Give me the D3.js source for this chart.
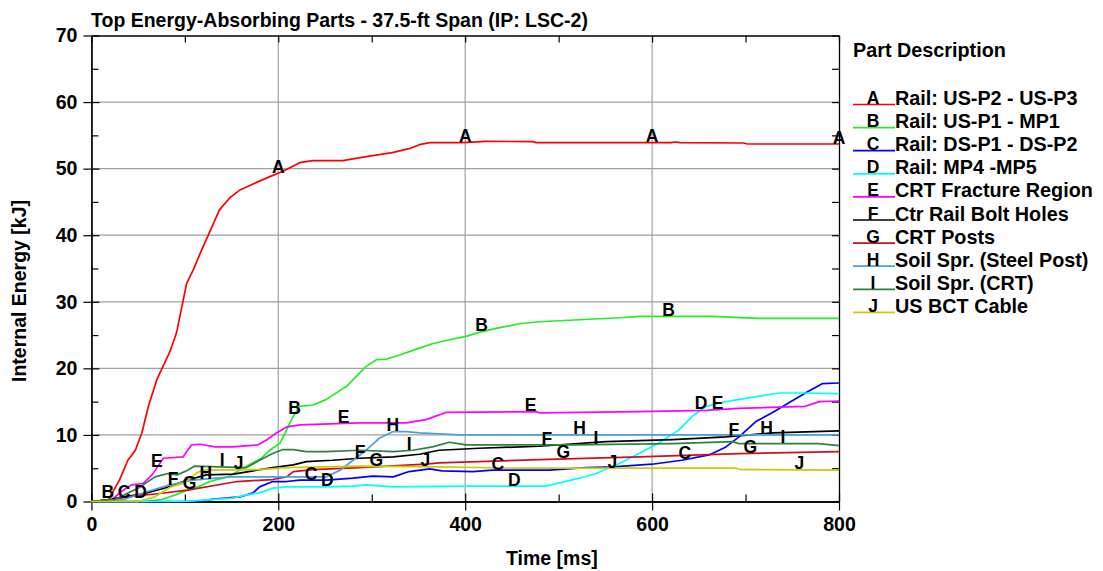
<!DOCTYPE html>
<html>
<head>
<meta charset="utf-8">
<script src="https://cdn.jsdelivr.net/npm/d3@7"></script>
<style>
    body { margin: 0; background: #fff; }
    svg text { font-family: "Liberation Sans", Arial, sans-serif; font-weight: bold; fill: #000; }
</style>
</head>
<body>
<div class="chart"></div>
<script>
// Series values: [time ms, energy kJ]
const railUsP2UsP3 = [[0, 0], [18, 0.2], [30, 3.2], [39, 6.2], [47, 7.7], [54, 10.3], [61, 14.3], [70, 18.3], [75, 19.8], [84, 22.5], [91, 25.3], [102, 32.8], [109, 34.8], [118, 37.8], [127, 40.6], [137, 43.8], [148, 45.6], [159, 46.8], [173, 47.7], [191, 48.8], [205, 49.6], [223, 50.9], [237, 51.2], [269, 51.2], [294, 51.8], [322, 52.4], [340, 53.0], [351, 53.6], [362, 53.9], [397, 53.9], [422, 54.1], [472, 54.05], [476, 53.9], [620, 53.9], [625, 54.0], [630, 53.9], [698, 53.85], [702, 53.7], [800, 53.7]];
const railUsP1Mp1 = [[0, 0], [60, 0], [75, 0.3], [90, 1.0], [102, 1.7], [114, 2.2], [127, 3.0], [146, 3.7], [175, 6.0], [182, 6.5], [191, 7.7], [202, 8.8], [209, 10.8], [216, 12.8], [223, 14.3], [237, 14.5], [251, 15.3], [273, 17.3], [294, 20.3], [305, 21.3], [316, 21.4], [330, 22.0], [350, 23.0], [365, 23.7], [383, 24.3], [401, 24.8], [412, 25.3], [433, 26.0], [458, 26.7], [479, 27.0], [522, 27.3], [565, 27.6], [586, 27.8], [664, 27.8], [714, 27.5], [800, 27.5]];
const railDsP1DsP2 = [[0, 0], [110, 0], [134, 0.4], [159, 0.7], [173, 1.3], [180, 2.2], [194, 3.0], [209, 3.0], [223, 3.2], [251, 3.2], [280, 3.5], [301, 3.8], [323, 3.7], [340, 4.5], [362, 4.9], [375, 4.6], [408, 4.5], [429, 4.7], [490, 4.7], [529, 5.1], [558, 5.2], [600, 5.6], [632, 6.2], [661, 7.0], [679, 8.2], [693, 9.7], [711, 12.0], [728, 13.3], [746, 14.8], [764, 16.3], [782, 17.7], [800, 17.8]];
const railMp4Mp5 = [[0, 0], [95, 0], [109, 0.1], [151, 0.5], [166, 1.0], [180, 1.3], [194, 2.0], [209, 2.2], [251, 2.2], [280, 2.3], [294, 2.5], [323, 2.2], [400, 2.3], [486, 2.3], [501, 2.8], [522, 3.5], [540, 4.2], [565, 5.7], [586, 7.2], [607, 8.8], [629, 10.8], [643, 12.8], [658, 14.3], [679, 15.0], [700, 15.5], [736, 16.3], [764, 16.3], [800, 16.2]];
const crtFracture = [[0, 0], [22, 0.3], [34, 1.7], [43, 2.5], [55, 2.7], [65, 4.0], [77, 6.5], [98, 6.7], [107, 8.5], [117, 8.6], [132, 8.2], [151, 8.2], [178, 8.5], [187, 9.2], [198, 10.3], [209, 11.2], [223, 11.5], [287, 11.8], [337, 11.8], [358, 12.3], [380, 13.4], [476, 13.5], [480, 13.3], [586, 13.5], [658, 13.7], [693, 14.0], [764, 14.3], [779, 15.0], [800, 15.1]];
const ctrBoltHoles = [[0, 0], [20, 0.3], [27, 0.5], [57, 1.2], [78, 2.0], [102, 3.2], [123, 4.0], [152, 4.1], [173, 4.6], [194, 5.1], [216, 5.5], [230, 6.0], [258, 6.2], [287, 6.5], [323, 6.7], [351, 7.1], [372, 7.7], [415, 8.0], [479, 8.3], [551, 9.0], [622, 9.3], [679, 9.7], [729, 10.3], [800, 10.6]];
const crtPosts = [[0, 0], [25, 0.3], [38, 0.7], [73, 1.2], [103, 1.7], [156, 3.0], [194, 3.3], [209, 3.7], [216, 4.5], [237, 4.8], [287, 5.1], [358, 5.6], [372, 5.8], [479, 6.3], [586, 6.7], [693, 7.2], [800, 7.5]];
const soilSteelPost = [[0, 0], [35, 0.3], [60, 1.5], [84, 2.5], [109, 3.2], [149, 3.7], [194, 3.7], [251, 3.7], [266, 4.7], [280, 6.2], [294, 7.7], [308, 9.5], [323, 10.5], [337, 10.5], [351, 10.3], [394, 10.0], [800, 10.0]];
const soilCrt = [[0, 0], [25, 0.3], [38, 1.2], [50, 2.0], [68, 3.7], [82, 4.2], [92, 4.0], [103, 4.7], [110, 5.3], [137, 5.2], [166, 5.1], [180, 6.2], [194, 7.2], [205, 7.8], [216, 7.8], [230, 7.5], [251, 7.5], [287, 7.7], [323, 7.5], [344, 7.7], [365, 8.2], [383, 8.9], [401, 8.5], [515, 8.5], [622, 8.7], [686, 9.0], [693, 8.7], [778, 8.7], [800, 8.4]];
const usBctCable = [[0, 0], [50, 0], [68, 0.7], [85, 2.2], [100, 2.8], [112, 4.2], [118, 4.7], [180, 4.8], [209, 5.1], [287, 5.3], [372, 5.2], [461, 5.0], [690, 5.0], [695, 4.8], [800, 4.7]];

const letters = ["A", "B", "C", "D", "E", "F", "G", "H", "I", "J"];
const names = ["Rail: US-P2 - US-P3", "Rail: US-P1 - MP1", "Rail: DS-P1 - DS-P2", "Rail: MP4 -MP5",
    "CRT Fracture Region", "Ctr Rail Bolt Holes", "CRT Posts", "Soil Spr. (Steel Post)", "Soil Spr. (CRT)", "US BCT Cable"];
const colors = ["#ff0000", "#22ee22", "#0000ff", "#00ffff", "#ff00ff", "#000000", "#cc1020", "#4aa0e0", "#2e8040", "#cccc00"];
const values = [railUsP2UsP3, railUsP1Mp1, railDsP1DsP2, railMp4Mp5, crtFracture, ctrBoltHoles, crtPosts, soilSteelPost, soilCrt, usBctCable];

const xMajor = [0, 200, 400, 600, 800],
    xMinor = [100, 300, 500, 700],
    yMajor = [0, 10, 20, 30, 40, 50, 60, 70],
    yMinor = [5, 15, 25, 35, 45, 55, 65];

let width = 1103,
    height = 571,
    plotLeft = 91.4, plotRight = 839, plotTop = 35.5, plotBottom = 501.5;

let svg = d3.select("div.chart")
    .append("svg")
    .attr("width", width)
    .attr("height", height);

svg.append("rect").attr("width", width).attr("height", height).attr("fill", "#fff");

let x = d3.scaleLinear().domain([0, 800]).range([plotLeft, plotRight]),
    y = d3.scaleLinear().domain([0, 70]).range([plotBottom, plotTop]);

// Grid lines
svg.append("g")
    .selectAll("line")
    .data(xMajor.slice(1, -1))
    .enter()
    .append("line")
    .attr("x1", d => x(d)).attr("x2", d => x(d))
    .attr("y1", plotTop).attr("y2", plotBottom)
    .style("stroke", "#a8a8a8").style("stroke-width", 1.3);

svg.append("g")
    .selectAll("line")
    .data(yMajor.slice(1, -1))
    .enter()
    .append("line")
    .attr("x1", plotLeft).attr("x2", plotRight)
    .attr("y1", d => y(d)).attr("y2", d => y(d))
    .style("stroke", "#a0a0a0").style("stroke-width", 1.3);

// Axes
let fixAxis = g => {
    g.selectAll("path.domain").style("stroke", "#000").style("stroke-width", 1.3);
    g.selectAll(".tick line").style("stroke", "#000").style("stroke-width", 1.2);
    g.selectAll("text").attr("font-size", 19.5).attr("font-family", null);
};

let bottomAxis = svg.append("g")
    .attr("transform", `translate(0,${plotBottom})`)
    .call(d3.axisBottom(x).tickValues(xMajor).tickSize(9).tickSizeOuter(0).tickPadding(3))
    .call(fixAxis);
bottomAxis.selectAll(".tick line").attr("y1", -8);
bottomAxis.selectAll("text").attr("y", 12).attr("dy", "0.9em");

svg.append("g")
    .attr("transform", `translate(0,${plotBottom})`)
    .call(d3.axisBottom(x).tickValues(xMinor).tickSize(-7).tickFormat("").tickSizeOuter(0))
    .call(fixAxis);

let leftAxis = svg.append("g")
    .attr("transform", `translate(${plotLeft},0)`)
    .call(d3.axisLeft(y).tickValues(yMajor).tickSize(8).tickSizeOuter(0).tickPadding(6))
    .call(fixAxis);
leftAxis.selectAll(".tick line").attr("x2", 8).attr("x1", -8);

svg.append("g")
    .attr("transform", `translate(${plotLeft},0)`)
    .call(d3.axisLeft(y).tickValues(yMinor).tickSize(-7).tickFormat("").tickSizeOuter(0))
    .call(fixAxis);

svg.append("g")
    .attr("transform", `translate(${plotRight},0)`)
    .call(d3.axisLeft(y).tickValues(yMajor.concat(yMinor)).tickSize(7).tickFormat("").tickSizeOuter(0))
    .call(fixAxis);

svg.append("g")
    .attr("transform", `translate(0,${plotTop})`)
    .call(d3.axisBottom(x).tickValues(xMajor.concat(xMinor)).tickSize(7).tickFormat("").tickSizeOuter(0))
    .call(fixAxis);

// Curves
let line = d3.line().x(d => x(d[0])).y(d => y(d[1]));

svg.append("g")
    .selectAll("path")
    .data(values)
    .enter()
    .append("path")
    .attr("d", line)
    .style("fill", "none")
    .style("stroke", (d, i) => colors[i])
    .style("stroke-width", 1.7)
    .style("stroke-linejoin", "round");

// Curve letters, every 200 ms, staggered per series; baseline sits on the curve
values.forEach((pts, i) => {
    let interp = d3.scaleLinear().domain(pts.map(d => d[0])).range(pts.map(d => d[1]));
    let times = d3.range(i * 17.5, 800.01, 200).filter(t => t > 0);
    svg.append("g")
        .selectAll("text")
        .data(times)
        .enter()
        .append("text")
        .attr("x", t => x(t))
        .attr("y", t => Math.min(y(interp(t)) - 0.5, plotBottom - 4))
        .attr("text-anchor", "middle")
        .attr("font-size", 17.5)
        .text(letters[i]);
});

// Titles
svg.append("text")
    .attr("x", 91).attr("y", 27)
    .attr("font-size", 19.5)
    .text("Top Energy-Absorbing Parts - 37.5-ft Span (IP: LSC-2)");

svg.append("text")
    .attr("x", 506).attr("y", 565)
    .attr("font-size", 19.5)
    .text("Time [ms]");

svg.append("text")
    .attr("transform", "translate(26,291) rotate(-90)")
    .attr("text-anchor", "middle")
    .attr("font-size", 19.5)
    .text("Internal Energy [kJ]");

// Legend
let legend = svg.append("g");
legend.append("text")
    .attr("x", 853).attr("y", 57)
    .attr("font-size", 19.8)
    .text("Part Description");

let rows = legend.selectAll("g")
    .data(names)
    .enter()
    .append("g")
    .attr("transform", (d, i) => `translate(0,${105 + i * 23.1})`);

rows.append("line")
    .attr("x1", 853).attr("x2", 895)
    .attr("y1", -0.5).attr("y2", -0.5)
    .style("stroke", (d, i) => colors[i])
    .style("stroke-width", 1.7);

rows.append("text")
    .attr("x", 873).attr("y", -1)
    .attr("text-anchor", "middle")
    .attr("font-size", 17.5)
    .text((d, i) => letters[i]);

rows.append("text")
    .attr("x", 895).attr("y", 0)
    .attr("font-size", 19.8)
    .text(d => d);
</script>
</body>
</html>
